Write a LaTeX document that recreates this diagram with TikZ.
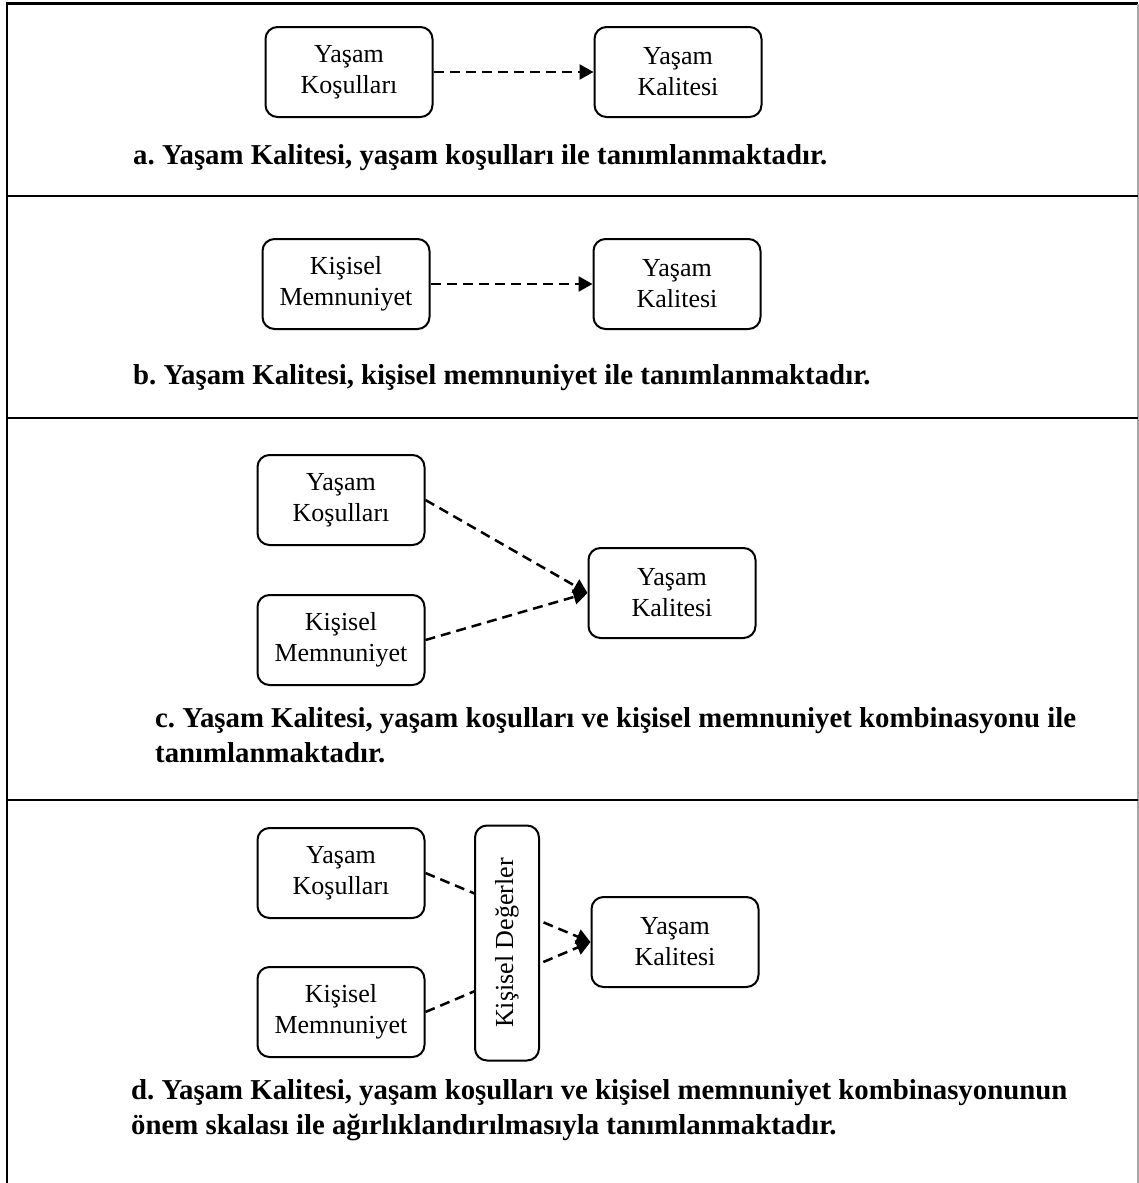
\documentclass[tikz,border=0pt]{standalone}
\usepackage{fontspec}
\setmainfont{Liberation Serif}
\usetikzlibrary{arrows.meta,positioning}
\frenchspacing

\begin{document}
\begin{tikzpicture}
[x=1pt, y=-1pt, font=\fontsize{26}{31}\selectfont,
% STYLES
% The concept style is used for the rounded boxes
concept/.style={rectangle, draw, rounded corners=12pt, line width=2pt, fill=white, minimum width=167pt, minimum height=90pt, align=center, inner sep=2pt},
% The weight style is used for the upright box of values
weight/.style={rectangle, draw, rounded corners=12pt, line width=2pt, fill=white, minimum width=235pt, minimum height=64pt, rotate=90},
% The caption style is used for the bold line under each part
caption/.style={anchor=west, align=left, inner sep=0pt, font=\fontsize{28.8}{35}\selectfont\bfseries},
% dashed links
link/.style={draw, line width=2.5pt, dash pattern=on 10pt off 6pt, -{Triangle[length=14pt,width=15pt]}},
rule/.style={line width=2.5pt}]

\useasboundingbox (0,0) rectangle (1139,1183);

% Frame
\draw[rule] (7,1183) -- (7,3.5) -- (1138,3.5);
\draw[black!35, line width=1.2pt] (1138,3.5) -- (1138,1183);
\foreach \y in {196,418,800}
  \draw[rule] (7,\y) -- (1138,\y);

% a
\node [concept] (lifea) at (349,72) {Yaşam\\Koşulları};
\node [concept, right=160pt of lifea] (qola) {Yaşam\\Kalitesi};
\node [caption] (capa) at (133,158) {a. Yaşam Kalitesi, yaşam koşulları ile tanımlanmaktadır.};

% b
\node [concept] (satb) at (346,284) {Kişisel\\Memnuniyet};
\node [concept, right=162pt of satb] (qolb) {Yaşam\\Kalitesi};
\node [caption] (capb) at (133,378) {b. Yaşam Kalitesi, kişisel memnuniyet ile tanımlanmaktadır.};

% c
\node [concept] (lifec) at (341,500) {Yaşam\\Koşulları};
\node [concept] (satc) at (341,640) {Kişisel\\Memnuniyet};
\node [concept] (qolc) at (672,593) {Yaşam\\Kalitesi};
\node [caption] (capc) at (155,735) {c. Yaşam Kalitesi, yaşam koşulları ve kişisel memnuniyet kombinasyonu ile\\tanımlanmaktadır.};

% d
\node [concept] (lifed) at (341,873) {Yaşam\\Koşulları};
\node [concept] (satd) at (341,1012) {Kişisel\\Memnuniyet};
\node [concept] (qold) at (675,942) {Yaşam\\Kalitesi};
\node [caption] (capd) at (131,1110) {d. Yaşam Kalitesi, yaşam koşulları ve kişisel memnuniyet kombinasyonunun\\önem skalası ile ağırlıklandırılmasıyla tanımlanmaktadır.};

% Draw the links
\path
(lifea) edge[link] (qola)
(satb) edge[link] (qolb)
(lifec.east) edge[link] (qolc.west)
(satc.east) edge[link] (qolc.west)
(lifed.east) edge[link] (qold.west)
(satd.east) edge[link] (qold.west);

% values box over the links of d
\node [weight] (vald) at (507,943) {Kişisel Değerler};

\end{tikzpicture}
\end{document}
